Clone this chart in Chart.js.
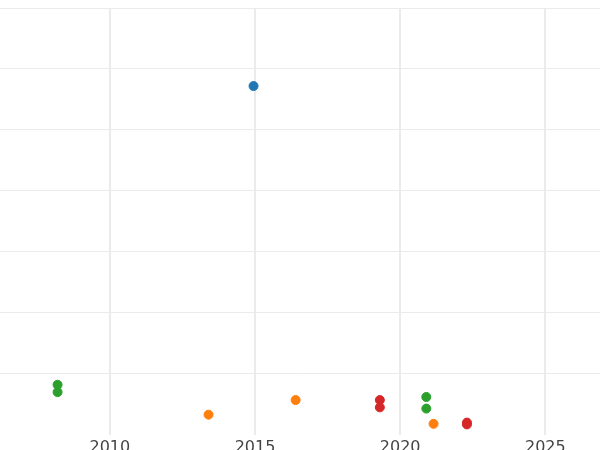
<!DOCTYPE html>
<html>
<head>
<script src="https://cdn.jsdelivr.net/npm/chart.js@4/dist/chart.umd.min.js"></script>
<style>body{margin:0;overflow:hidden}#wrap{width:612px;height:462px;margin-left:-6px}</style>
</head>
<body>
<div id="wrap"><canvas id="c"></canvas></div>
<script>
const blueX = [2014.95];
const blueY = [5.72];
const greenX = [2008.2, 2008.2, 2020.9, 2020.9];
const greenY = [0.82, 0.70, 0.62, 0.43];
const orangeX = [2013.4, 2016.4, 2021.15];
const orangeY = [0.33, 0.57, 0.18];
const redX = [2019.3, 2019.3, 2022.3, 2022.3];
const redY = [0.57, 0.45, 0.20, 0.17];
const xTicks = [2010, 2015, 2020, 2025];

const pts = (xs, ys) => xs.map((x, i) => ({ x: x, y: ys[i] }));
const ds = (xs, ys, color) => ({
  data: pts(xs, ys), backgroundColor: color, borderColor: color,
  pointRadius: 4.5, pointHoverRadius: 4.5
});

new Chart(document.getElementById("c"), {
  type: "scatter",
  data: {
    datasets: [
      ds(blueX, blueY, "#1f77b4"),
      ds(greenX, greenY, "#2ca02c"),
      ds(orangeX, orangeY, "#ff7f0e"),
      ds(redX, redY, "#d62728")
    ]
  },
  options: {
    responsive: true, maintainAspectRatio: false, animation: false,
    layout: { padding: { top: 8, bottom: 2 } },
    plugins: { legend: { display: false }, tooltip: { enabled: false } },
    scales: {
      x: {
        min: 2006.2, max: 2026.9,
        afterBuildTicks: a => { a.ticks = xTicks.map(v => ({ value: v })); },
        grid: { color: "#ebebeb", lineWidth: 2, drawTicks: false },
        border: { display: false },
        ticks: { color: "#444", font: { size: 16, family: "DejaVu Sans" }, padding: 3,
                 callback: v => String(v) }
      },
      y: {
        min: 0, max: 7,
        ticks: { display: false, stepSize: 1 },
        grid: { color: c => c.tick && c.tick.value === 0 ? "rgba(0,0,0,0)" : "#ebebeb",
                lineWidth: 1, drawTicks: false },
        border: { display: false }
      }
    }
  }
});
</script>
</body>
</html>
